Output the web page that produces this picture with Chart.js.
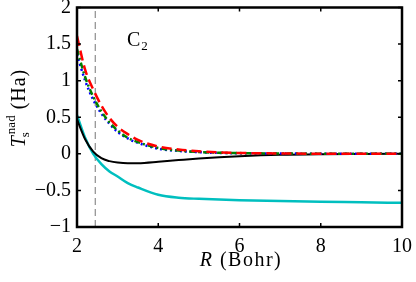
<!DOCTYPE html>
<html>
<head>
<title>Ts nad C2</title>
<style>
  body { margin: 0; background: #fff; }
  #wrap { width: 416px; height: 282px; }
</style>
</head>
<body>
<div id="wrap"><canvas id="myChart" width="416" height="282"></canvas></div>
<script src="https://cdn.jsdelivr.net/npm/chart.js"></script>
<script>
    // bond length R (Bohr) and the five curves
    const rValues     = [2, 2.2, 2.4, 2.6, 2.8, 3.0, 3.25, 3.5, 4, 4.5, 5, 5.5, 6, 7, 8, 9, 10];
    const redValues   = [1.61, 1.15, 0.88, 0.66, 0.49, 0.37, 0.27, 0.19, 0.10, 0.06, 0.035, 0.02, 0.012, 0.005, 0.002, 0.001, 0];
    const greenValues = [1.43, 1.05, 0.78, 0.58, 0.43, 0.32, 0.22, 0.16, 0.08, 0.045, 0.025, 0.015, 0.01, 0.004, 0.002, 0.001, 0];
    const blueValues  = [1.36, 1.00, 0.74, 0.55, 0.41, 0.30, 0.21, 0.15, 0.07, 0.04, 0.022, 0.013, 0.008, 0.004, 0.002, 0.001, 0];
    const blackValues = [0.47, 0.20, 0.03, -0.06, -0.10, -0.12, -0.13, -0.128, -0.108, -0.085, -0.063, -0.046, -0.032, -0.013, -0.005, -0.002, 0];
    const cyanValues  = [0.53, 0.22, 0.0, -0.14, -0.24, -0.31, -0.40, -0.46, -0.56, -0.60, -0.615, -0.625, -0.635, -0.645, -0.655, -0.662, -0.67];
    const eqBond = 2.45;
    const xTickValues = [2, 4, 6, 8, 10];
    const yTickValues = [-1, -0.5, 0, 0.5, 1, 1.5, 2];

    const serif = "'Liberation Serif', 'DejaVu Serif', serif";

    function pts(vals){
        return rValues.map((r, i) => ({x: r, y: vals[i]}));
    }
    function line(label, vals, color, dash, width){
        return {
            label: label,
            data: pts(vals),
            borderColor: color,
            borderWidth: width,
            borderDash: dash,
            pointRadius: 0,
            fill: false,
            cubicInterpolationMode: 'monotone'
        };
    }
    // kill the label overflow padding so the plot box sits where we want it
    function noPad(scale){
        scale.paddingTop = 0; scale.paddingBottom = 0;
        scale.paddingLeft = 0; scale.paddingRight = 0;
    }

    // inward ticks, box, axis titles and the C2 label
    const decorations = {
        id: 'decorations',
        afterDraw(chart){
            const ctx = chart.ctx;
            const a = chart.chartArea;
            const x = chart.scales.x, y = chart.scales.y;
            ctx.save();
            ctx.strokeStyle = '#000';
            ctx.lineWidth = 1.5;
            ctx.beginPath();
            xTickValues.forEach(v => {
                const px = x.getPixelForValue(v);
                ctx.moveTo(px, a.bottom); ctx.lineTo(px, a.bottom - 4);
                ctx.moveTo(px, a.top); ctx.lineTo(px, a.top + 4);
            });
            yTickValues.forEach(v => {
                const py = y.getPixelForValue(v);
                ctx.moveTo(a.left, py); ctx.lineTo(a.left + 4, py);
                ctx.moveTo(a.right, py); ctx.lineTo(a.right - 4, py);
            });
            ctx.stroke();
            ctx.lineWidth = 2.5;
            ctx.strokeRect(a.left, a.top, a.right - a.left, a.bottom - a.top);

            ctx.fillStyle = '#000';
            ctx.textBaseline = 'alphabetic';
            ctx.textAlign = 'left';

            // x title: R (Bohr)
            ctx.letterSpacing = '1.5px';
            ctx.font = 'italic 20px ' + serif;
            const wR = ctx.measureText('R').width;
            ctx.font = '20px ' + serif;
            const wB = ctx.measureText(' (Bohr)').width;
            let sx = 241 - (wR + wB) / 2;
            ctx.font = 'italic 20px ' + serif;
            ctx.fillText('R', sx, 266);
            ctx.font = '20px ' + serif;
            ctx.fillText(' (Bohr)', sx + wR, 266);

            // y title: T_s^nad (Ha), rotated
            ctx.save();
            ctx.translate(25, 108);
            ctx.rotate(-Math.PI / 2);
            ctx.letterSpacing = '1px';
            ctx.font = 'italic 20px ' + serif;
            const wT = ctx.measureText('T').width;
            ctx.letterSpacing = '0px';
            ctx.font = '13px ' + serif;
            const wN = ctx.measureText('nad').width;
            ctx.letterSpacing = '1px';
            ctx.font = '20px ' + serif;
            const wH = ctx.measureText(' (Ha)').width;
            let tx = -(wT + wN + 1 + wH) / 2;
            ctx.font = 'italic 20px ' + serif;
            ctx.fillText('T', tx, 0);
            ctx.letterSpacing = '0px';
            ctx.font = '13px ' + serif;
            ctx.fillText('s', tx + wT - 2, 4);
            ctx.fillText('nad', tx + wT + 1, -10);
            ctx.letterSpacing = '1px';
            ctx.font = '20px ' + serif;
            ctx.fillText(' (Ha)', tx + wT + 1 + wN, 0);
            ctx.restore();

            // C2 label
            ctx.letterSpacing = '0px';
            ctx.font = '20px ' + serif;
            ctx.fillText('C', 127, 46);
            const wC = ctx.measureText('C').width;
            ctx.font = '13px ' + serif;
            ctx.fillText('2', 128 + wC, 50);
            ctx.restore();
        }
    };

    const data = {
        datasets: [
            line('red', redValues, '#ff0000', [10, 5], 2.5),
            line('green', greenValues, '#008000', [6, 3, 2, 3], 2.5),
            line('blue', blueValues, '#0000ff', [2, 3], 2.5),
            line('black', blackValues, '#000000', [], 2),
            line('cyan', cyanValues, '#00bfbf', [], 2.5),
            {
                label: 'equilibrium',
                data: [{x: eqBond, y: -1}, {x: eqBond, y: 2}],
                borderColor: '#8c8c8c',
                borderWidth: 1.2,
                borderDash: [7, 4],
                pointRadius: 0
            }
        ]
    };

    const config = {
        type: 'line',
        data,
        options: {
            responsive: false,
            animation: false,
            layout: {padding: {top: 7.5, right: 14, left: 0, bottom: 0}},
            plugins: {legend: {display: false}, tooltip: {enabled: false}},
            scales: {
                x: {
                    type: 'linear', min: 2, max: 10,
                    grid: {display: false, drawTicks: false},
                    border: {display: false},
                    ticks: {stepSize: 2, padding: 8, color: '#000', font: {family: serif, size: 20}},
                    afterFit(scale){ scale.height = 55; noPad(scale); }
                },
                y: {
                    min: -1, max: 2,
                    grid: {display: false, drawTicks: false},
                    border: {display: false},
                    ticks: {
                        stepSize: 0.5, padding: 6, color: '#000',
                        font: {family: serif, size: 20},
                        callback: v => String(v).replace('-', '\u2212')
                    },
                    afterFit(scale){ scale.width = 77; noPad(scale); }
                }
            }
        },
        plugins: [decorations]
    };

    let myChart = new Chart(document.getElementById('myChart'), config);
</script>
</body>
</html>
